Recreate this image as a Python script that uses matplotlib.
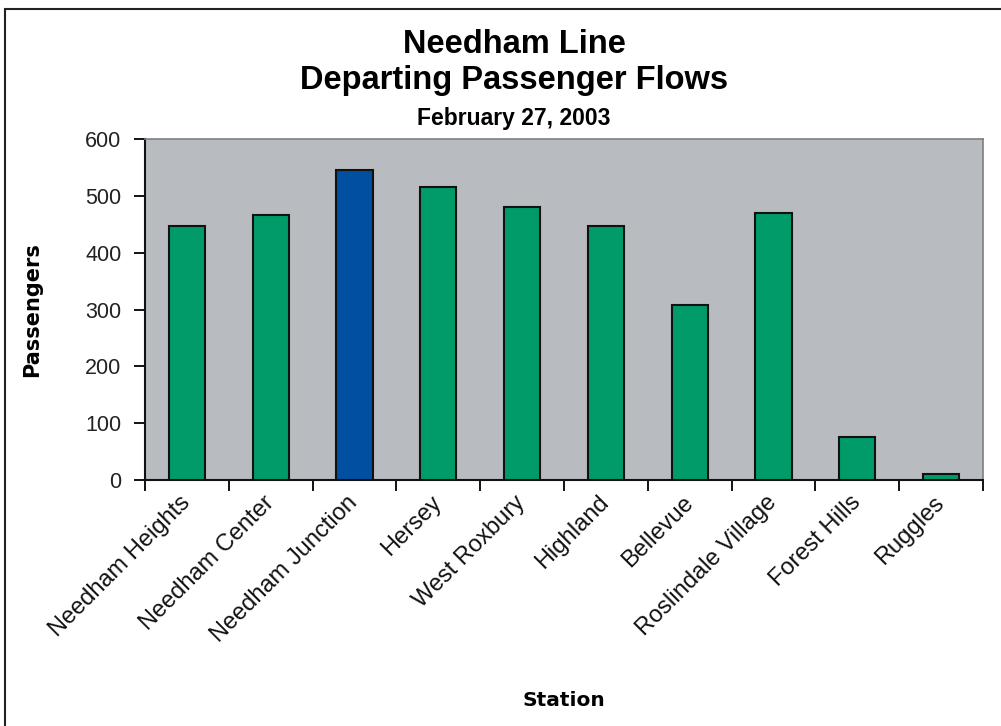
import matplotlib
matplotlib.use("Agg")
import matplotlib.pyplot as plt
from matplotlib.patches import Rectangle

# Departing passengers by station, Needham Line, 27 Feb 2003
stations = ["Needham Heights", "Needham Center", "Needham Junction", "Hersey",
            "West Roxbury", "Highland", "Bellevue", "Roslindale Village",
            "Forest Hills", "Ruggles"]
passengers = [447, 466, 546, 515, 480, 447, 308, 469, 76, 11]
highlight = "Needham Junction"

title_lines = ["Needham Line", "Departing Passenger Flows"]
subtitle = "February 27, 2003"
y_ticks = [0, 100, 200, 300, 400, 500, 600]

GREEN = "#009B69"
BLUE = "#004FA0"
PLOT_BG = "#B8BBBF"

W, H = 1001, 726
fig = plt.figure(figsize=(W / 100, H / 100), dpi=100)
fig.patch.set_facecolor("white")

# outer chart-area border
fig.add_artist(Rectangle((5 / W, -0.05), 1.2, (H - 9) / H + 0.05,
                         transform=fig.transFigure, fill=False,
                         edgecolor="#222222", linewidth=1.5))

ax = fig.add_axes([145 / W, (H - 480) / H, (983 - 145) / W, (480 - 139) / H])
ax.set_facecolor(PLOT_BG)

x = list(range(len(stations)))
colors = [BLUE if s == highlight else GREEN for s in stations]
ax.bar(x, passengers, width=0.43, color=colors, edgecolor="#111111",
       linewidth=1.5, zorder=3)

ax.set_xlim(-0.5, len(stations) - 0.5)
ax.set_ylim(0, 600)
ax.set_yticks(y_ticks)
ax.set_yticklabels([str(v) for v in y_ticks], family="Liberation Sans",
                   fontsize=15.5, color="#222222")

# category boundaries carry the tick marks, centres carry the labels
ax.set_xticks([i - 0.5 for i in range(len(stations) + 1)])
ax.set_xticklabels([])
ax.set_xticks(x, minor=True)
ax.set_xticklabels(stations, minor=True, rotation=45, ha="right",
                   va="center", rotation_mode="anchor",
                   family="Liberation Sans", fontsize=17, color="#111111")
ax.tick_params(axis="x", which="major", direction="out", length=8, width=1.3)
ax.tick_params(axis="x", which="minor", length=0, pad=14)
ax.tick_params(axis="y", direction="out", length=8, width=1.3, pad=9)

for side in ("left", "bottom"):
    ax.spines[side].set_color("#111111")
    ax.spines[side].set_linewidth(1.5)
for side in ("top", "right"):
    ax.spines[side].set_color("#7F7F7F")
    ax.spines[side].set_linewidth(1.2)

ax.set_ylabel("Passengers", family="DejaVu Sans", fontweight="bold",
              fontsize=15)
ax.yaxis.set_label_coords((32 - 145) / (983 - 145), 0.5)
ax.yaxis.label.set_va("center")
ax.set_xlabel("Station", family="DejaVu Sans", fontweight="bold",
              fontsize=14.5)
ax.xaxis.set_label_coords(0.5, -(706 - 480) / (480 - 139))
ax.xaxis.label.set_va("baseline")

cx = 514 / W
fig.text(cx, 1 - 53 / H, title_lines[0], ha="center", va="baseline",
         family="Liberation Sans", fontweight="bold", fontsize=23.5)
fig.text(cx, 1 - 89 / H, title_lines[1], ha="center", va="baseline",
         family="Liberation Sans", fontweight="bold", fontsize=23.5)
fig.text(cx, 1 - 125 / H, subtitle, ha="center", va="baseline",
         family="Liberation Sans", fontweight="bold", fontsize=16.5)

fig.savefig("out.png", dpi=100)
